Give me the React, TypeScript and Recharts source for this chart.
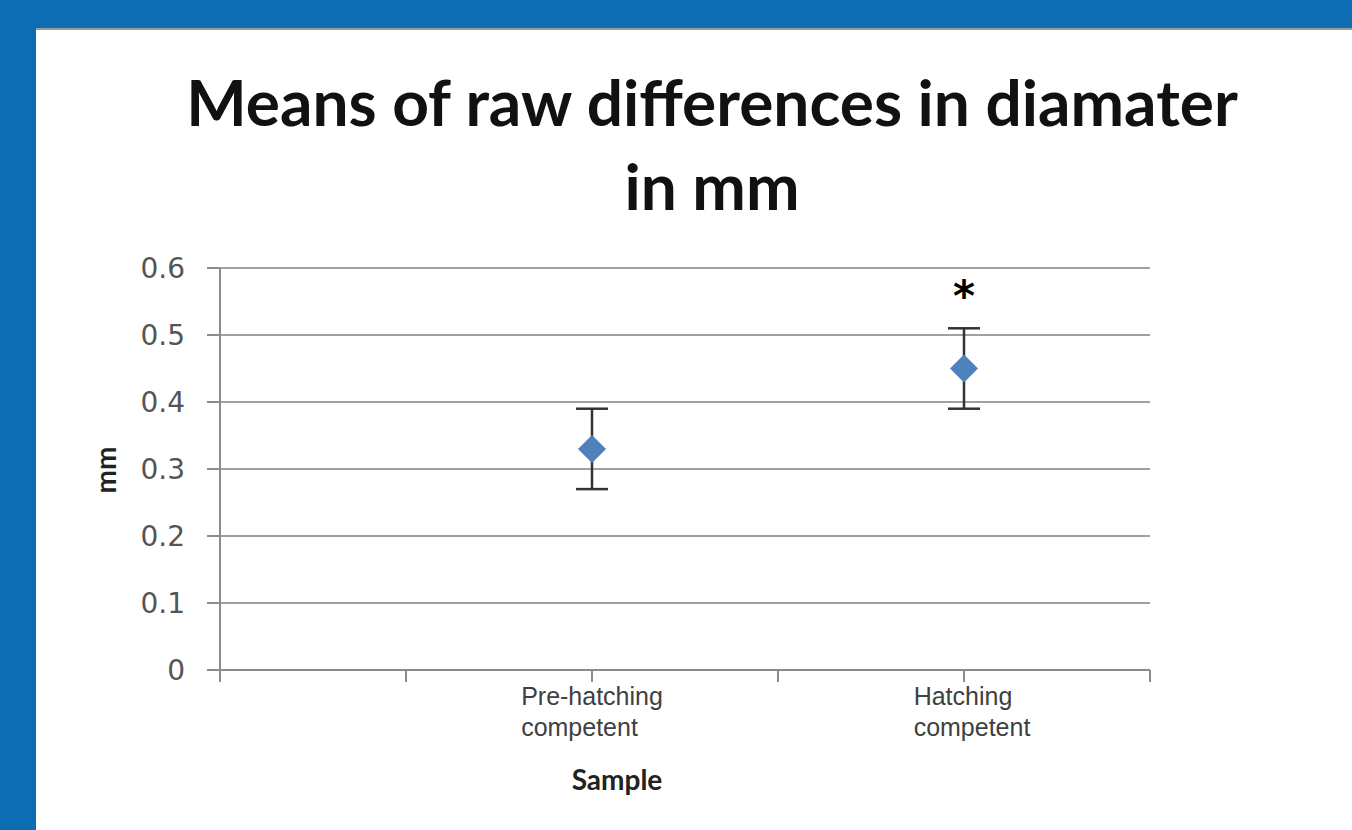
import React from 'react';
import {
  ScatterChart,
  Scatter,
  XAxis,
  YAxis,
  CartesianGrid,
  ErrorBar,
  Label,
} from 'recharts';

const categories = ['Pre-hatching competent', 'Hatching competent'];
const categoryLines = [
  ['Pre-hatching', 'competent'],
  ['Hatching', 'competent'],
];
const means = [0.33, 0.45];
const errors = [0.06, 0.06];
const xTicks = [0, 0.5, 1, 1.5, 2, 2.5];
const yTicks = [0, 0.1, 0.2, 0.3, 0.4, 0.5, 0.6];
const marks = [{ x: 2, y: 0.56, text: '*' }];

const data = categories.map((name, i) => ({
  name,
  x: i + 1,
  y: means[i],
  err: errors[i],
}));

const tickFont = '25px "Liberation Sans", Arial, sans-serif';

function measure(text: string, font: string) {
  const c = document.createElement('canvas').getContext('2d');
  if (!c) return text.length * 12;
  c.font = font;
  return c.measureText(text).width;
}

const XTick = (props: any) => {
  const { x, y, payload } = props;
  const idx = Math.round(payload.value) - 1;
  if (payload.value % 1 !== 0 || idx < 0 || idx >= categoryLines.length) return null;
  const lines = categoryLines[idx];
  const w = Math.max(...lines.map((l) => measure(l, tickFont)));
  const left = x - w / 2 + (idx === 1 ? 8 : 0);
  return (
    <g>
      {lines.map((l, i) => (
        <text
          key={i}
          x={left}
          y={y}
          dy={19 + i * 31}
          textAnchor="start"
          fill="#404040"
          style={{ font: tickFont }}
        >
          {l}
        </text>
      ))}
    </g>
  );
};

const Diamond = (props: any) => {
  const { cx, cy } = props;
  const r = 14;
  return (
    <polygon
      points={`${cx},${cy - r} ${cx + r},${cy} ${cx},${cy + r} ${cx - r},${cy}`}
      fill="#4f81bd"
    />
  );
};

const Star = (props: any) => {
  const { cx, cy, payload } = props;
  return (
    <text
      x={cx}
      y={cy}
      dy={16}
      textAnchor="middle"
      fill="#000"
      style={{ font: 'bold 42px "DejaVu Sans", sans-serif' }}
    >
      {payload.text}
    </text>
  );
};

export default function App() {
  return (
    <div
      style={{
        position: 'absolute',
        left: 0,
        top: 0,
        width: 1352,
        height: 830,
        background: '#0c6db3',
        overflow: 'hidden',
      }}
    >
      <div
        style={{
          position: 'absolute',
          left: 36,
          top: 28,
          width: 1316,
          height: 802,
          background: '#fff',
          borderTop: '2px solid #9a9a9a',
          boxSizing: 'border-box',
        }}
      >
        <ScatterChart
          width={1316}
          height={800}
          margin={{ top: 238, right: 202, left: 0, bottom: 60 }}
        >
          <CartesianGrid horizontal vertical={false} stroke="#a0a0a0" strokeWidth={2} />
          <XAxis
            type="number"
            dataKey="x"
            domain={[0, 2.5]}
            ticks={xTicks}
            interval={0}
            height={100}
            tickSize={12}
            tickMargin={4}
            stroke="#8c8c8c"
            strokeWidth={2}
            tick={<XTick />}
          >
            <Label
              content={(p: any) => (
                <text
                  x={p.viewBox.x + 397}
                  y={p.viewBox.y + 120}
                  textAnchor="middle"
                  fill="#222"
                  style={{ font: 'bold 28px Lato, sans-serif' }}
                >
                  Sample
                </text>
              )}
            />
          </XAxis>
          <YAxis
            type="number"
            dataKey="y"
            domain={[0, 0.6]}
            ticks={yTicks}
            interval={0}
            width={184}
            tickSize={13}
            tickMargin={22}
            stroke="#8c8c8c"
            strokeWidth={2}
            tick={{ fill: '#555', fontSize: 28, fontFamily: '"DejaVu Sans", sans-serif' }}
          >
            <Label
              content={(p: any) => {
                const cx = p.viewBox.x + 69;
                const cy = p.viewBox.y + 202;
                return (
                  <text
                    x={cx}
                    y={cy}
                    transform={`rotate(-90 ${cx} ${cy})`}
                    textAnchor="middle"
                    dominantBaseline="central"
                    fill="#222"
                    style={{ font: 'bold 28px Lato, sans-serif' }}
                  >
                    mm
                  </text>
                );
              }}
            />
          </YAxis>
          <Scatter data={data} shape={<Diamond />} isAnimationActive={false}>
            <ErrorBar dataKey="err" direction="y" width={16} strokeWidth={2.5} stroke="#333" />
          </Scatter>
          <Scatter data={marks} shape={<Star />} isAnimationActive={false} />
        </ScatterChart>
      </div>
      <div
        style={{
          position: 'absolute',
          left: 172,
          top: 60,
          width: 1080,
          textAlign: 'center',
          font: 'bold 64px Lato, sans-serif',
          lineHeight: '84px',
          color: '#111',
        }}
      >
        Means of raw differences in diamater
        <br />
        in mm
      </div>
    </div>
  );
}
